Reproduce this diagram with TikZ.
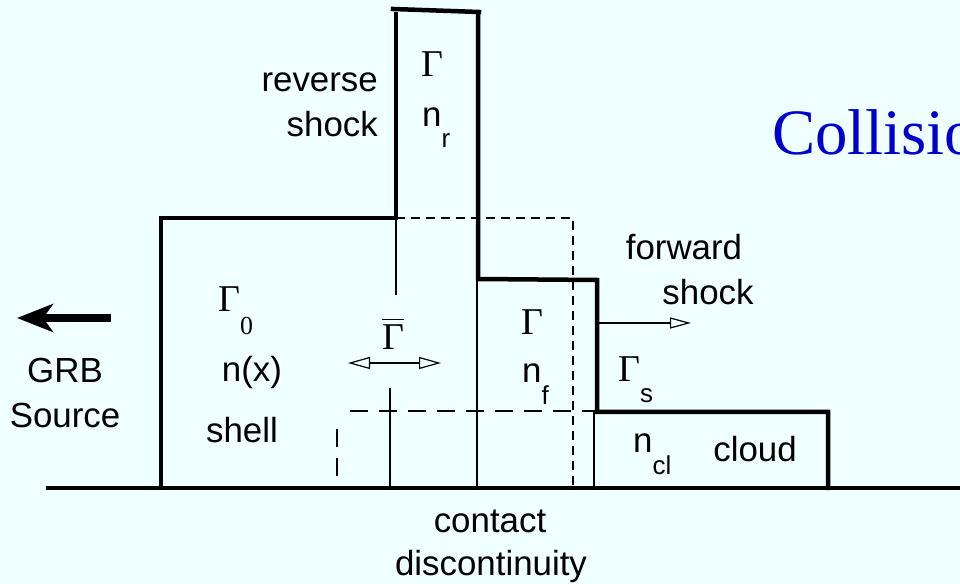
\documentclass[tikz,border=0pt]{standalone}
\usepackage{fontspec}
\setmainfont{Liberation Sans}
\newfontfamily\grk{Liberation Serif}
\usepackage{xcolor}
\usetikzlibrary{arrows.meta}
\definecolor{bgcol}{HTML}{F0FFFF}
\definecolor{titlecol}{HTML}{0000CC}
\tikzset{
  thickline/.style={line width=4.5bp,line cap=rect},
  thinline/.style={line width=1.2bp},
  shortdash/.style={line width=1.2bp,dash pattern=on 9bp off 6bp},
  longdash/.style={line width=1.3bp,dash pattern=on 18bp off 11bp},
  lbl/.style={inner sep=0pt,font=\fontsize{35}{42}\selectfont},
  gam/.style={inner sep=0pt,font=\grk\fontsize{38}{44}\selectfont},
}
\newcommand{\subsz}{\fontsize{26}{28}\selectfont}
\newcommand{\barred}[1]{\vbox{\hrule height 1.6bp\kern 5bp\hbox{#1}}}
\begin{document}
\begin{tikzpicture}[line join=miter]
    %%
    \useasboundingbox (0bp,0bp) rectangle (960bp,584bp);
    \clip (0bp,0bp) rectangle (960bp,584bp);
    \fill[bgcol] (0bp,0bp) rectangle (960bp,584bp);
    %
    % profile
    \draw[thickline] (48bp,96bp) -- (960bp,96bp);
    \draw[thickline] (161bp,96bp) -- (161bp,366bp) -- (394bp,366bp);
    \draw[thickline] (396bp,366bp) -- (396bp,570bp);
    \draw[thickline] (393bp,575bp) -- (479bp,572bp);
    \draw[thickline] (478bp,570bp) -- (478bp,305bp) -- (597bp,304bp) -- (597bp,172bp) -- (828bp,172bp) -- (828bp,96bp);
    \draw[thinline] (396bp,366bp) -- (396bp,289bp);
    \draw[thinline] (390bp,196bp) -- (390bp,96bp);
    \draw[thinline] (477bp,305bp) -- (477bp,96bp);
    \draw[thinline] (594bp,172bp) -- (594bp,96bp);
    \draw[shortdash] (396bp,366bp) -- (573bp,366bp) -- (573bp,96bp);
    \draw[longdash] (350bp,173bp) -- (597bp,173bp);
    \draw[longdash] (337bp,155bp) -- (337bp,103bp);
    %
    % arrows
    \coordinate (grbtail) at (111bp,266bp);
    \coordinate (grbtip) at (17bp,266bp);
    \draw[line width=8bp,-{Stealth[length=36bp,width=28bp,inset=10bp]}] (grbtail) -- (grbtip);
    \coordinate (avgleft) at (348bp,221bp);
    \coordinate (avgright) at (441bp,221bp);
    \draw[thinline,{Triangle[open,length=22bp,width=12bp]}-{Triangle[open,length=22bp,width=12bp]}] (avgleft) -- (avgright);
    \coordinate (fwdtail) at (597bp,261bp);
    \coordinate (fwdtip) at (691bp,261bp);
    \draw[thinline,-{Triangle[open,length=21bp,width=11bp]}] (fwdtail) -- (fwdtip);
    %
    % labels
    \node[lbl,anchor=base east] (rev1) at (378bp,492bp) {reverse};
    \node[lbl,anchor=base east] (rev2) at (378bp,447bp) {shock};
    \node[gam,anchor=base] (gamr) at (432bp,507bp) {Γ};
    \node[lbl,anchor=base west] (nr) at (422bp,457bp) {n\raisebox{-21bp}{\subsz r}};
    \node[gam,anchor=base west] (gam0) at (218bp,272bp) {Γ\raisebox{-23bp}{\subsz 0}};
    \node[lbl,anchor=base] (nx) at (252bp,202bp) {n(x)};
    \node[lbl,anchor=base] (shell) at (242bp,141bp) {shell};
    \node[gam,anchor=base] (gambar) at (393bp,234bp) {\barred{Γ}};
    \node[gam,anchor=base] (gamf) at (532bp,249bp) {Γ};
    \node[lbl,anchor=base west] (nf) at (522bp,201bp) {n\raisebox{-22bp}{\subsz f}};
    \node[gam,anchor=base west] (gams) at (618bp,202bp) {Γ\raisebox{-21bp}{\rmfamily\subsz s}};
    \node[lbl,anchor=base west] (ncl) at (633bp,131bp) {n\raisebox{-22bp}{\subsz cl}};
    \node[lbl,anchor=base] (cloud) at (755bp,122bp) {cloud};
    \node[lbl,anchor=base] (fwd1) at (684bp,324bp) {forward};
    \node[lbl,anchor=base] (fwd2) at (708bp,279bp) {shock};
    \node[lbl,anchor=base] (cd1) at (490bp,51bp) {contact};
    \node[lbl,anchor=base] (cd2) at (491bp,9bp) {discontinuity};
    \node[lbl,anchor=base] (grb1) at (65bp,201bp) {GRB};
    \node[lbl,anchor=base] (grb2) at (65bp,156bp) {Source};
    \node[inner sep=0pt,anchor=base west,text=titlecol,font=\grk\fontsize{65}{70}\selectfont] (title) at (772bp,429bp) {Collisions};
    %
\end{tikzpicture}
\end{document}
